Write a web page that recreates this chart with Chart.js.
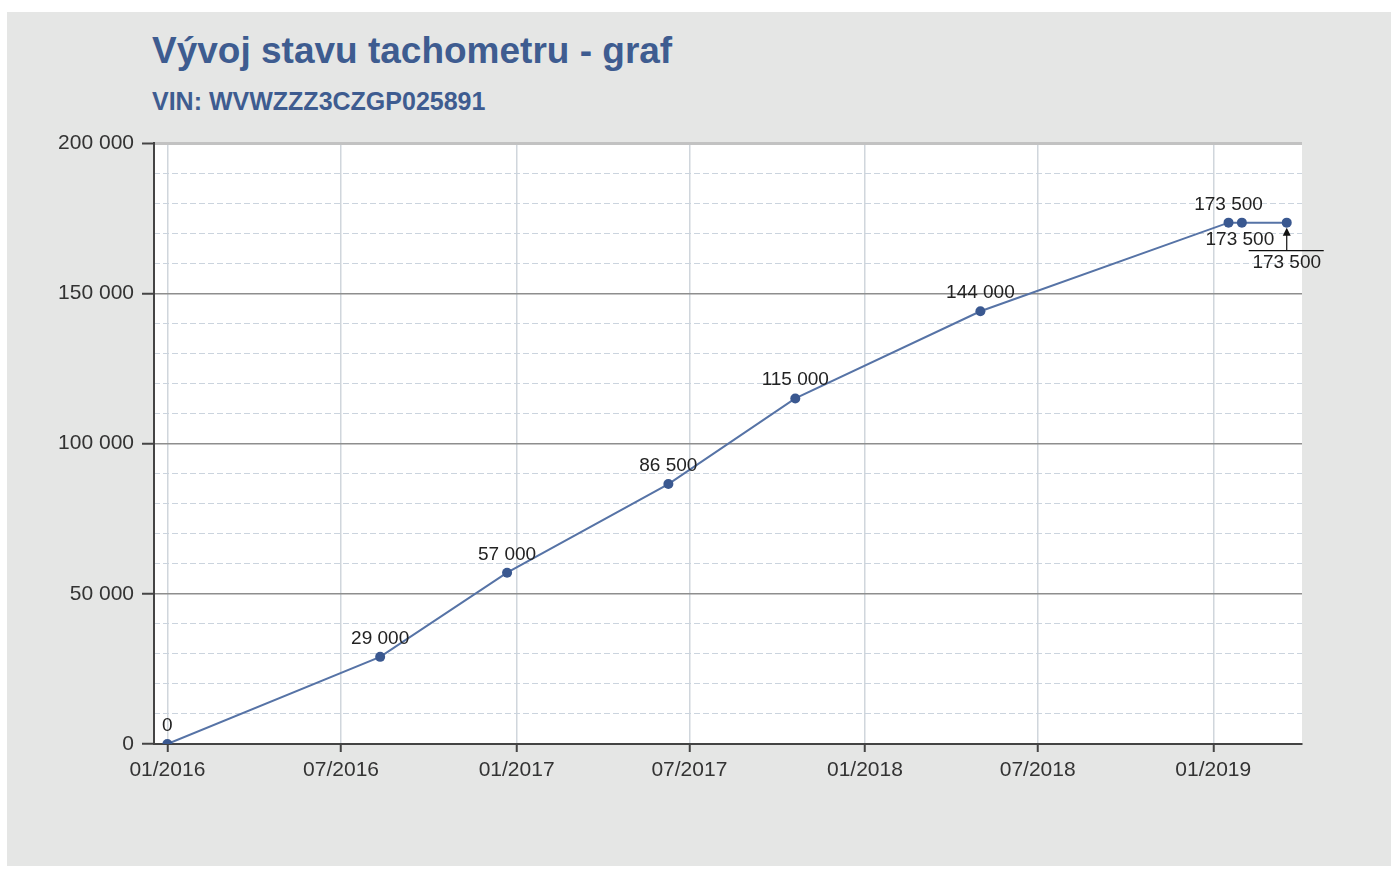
<!DOCTYPE html>
<html>
<head>
<meta charset="utf-8">
<script src="https://cdn.jsdelivr.net/npm/chart.js@4.4.1/dist/chart.umd.min.js"></script>
<style>
  html, body { margin: 0; padding: 0; background: #fff; }
  #panel { position: absolute; left: 7px; top: 12px; width: 1384px; height: 854px; background: #e5e6e5; }
  #title, #subtitle { position: absolute; left: 152px; margin: 0; font-family: "Liberation Sans", Arial, sans-serif; font-weight: bold; color: #3e5c90; white-space: nowrap; }
  #title { top: 32px; font-size: 37px; line-height: 37px; }
  #subtitle { top: 89px; font-size: 25px; line-height: 25px; }
  #chart { position: absolute; left: 0; top: 0; }
</style>
</head>
<body>
<div id="panel"></div>
<h1 id="title">Vývoj stavu tachometru - graf</h1>
<h2 id="subtitle">VIN: WVWZZZ3CZGP025891</h2>
<canvas id="chart" width="1391" height="869"></canvas>
<script>
// readings (date, km)
const readingDates = ['2016-01-01', '2016-08-11', '2016-12-22', '2017-06-09', '2017-10-20', '2018-05-02', '2019-01-17', '2019-01-31', '2019-03-19'];
const odometer = [0, 29000, 57000, 86500, 115000, 144000, 173500, 173500, 173500];

// x axis ticks
const xTickDates = ['2016-01-01', '2016-07-01', '2017-01-01', '2017-07-01', '2018-01-01', '2018-07-01', '2019-01-01'];
const xTickLabels = ['01/2016', '07/2016', '01/2017', '07/2017', '01/2018', '07/2018', '01/2019'];

const toMs = s => Date.parse(s + 'T00:00:00Z');
const fmt = v => String(v).replace(/\B(?=(\d{3})+(?!\d))/g, ' ');

const FONT = '"Liberation Sans", Arial, sans-serif';

// white plot background
const plotBg = {
  id: 'plotBg',
  beforeDraw(chart) {
    const a = chart.chartArea, c = chart.ctx;
    c.save();
    c.fillStyle = '#ffffff';
    c.fillRect(a.left, a.top, a.right - a.left, a.bottom - a.top);
    c.restore();
  }
};

// value labels over the points, last two moved out of the way
const labelModes = { 7: 'below', 8: 'callout' };
const valueLabels = {
  id: 'valueLabels',
  afterDatasetsDraw(chart) {
    const c = chart.ctx;
    const pts = chart.getDatasetMeta(0).data;
    c.save();
    c.font = '19px ' + FONT;
    c.fillStyle = '#222';
    c.textAlign = 'center';
    c.textBaseline = 'alphabetic';
    pts.forEach((p, i) => {
      const txt = fmt(odometer[i]);
      const mode = labelModes[i] || 'above';
      if (mode === 'above') {
        c.fillText(txt, p.x, p.y - 13);
      } else if (mode === 'below') {
        c.fillText(txt, p.x - 2, p.y + 22);
      } else {
        c.strokeStyle = '#111';
        c.lineWidth = 1.2;
        c.beginPath();
        c.moveTo(p.x - 38, p.y + 28);
        c.lineTo(p.x + 37, p.y + 28);
        c.moveTo(p.x, p.y + 28);
        c.lineTo(p.x, p.y + 8);
        c.stroke();
        c.fillStyle = '#111';
        c.beginPath();
        c.moveTo(p.x, p.y + 5);
        c.lineTo(p.x - 4, p.y + 13);
        c.lineTo(p.x + 4, p.y + 13);
        c.closePath();
        c.fill();
        c.fillStyle = '#222';
        c.fillText(txt, p.x, p.y + 45);
      }
    });
    c.restore();
  }
};

new Chart(document.getElementById('chart'), {
  type: 'line',
  data: {
    datasets: [{
      data: readingDates.map((d, i) => ({ x: toMs(d), y: odometer[i] })),
      borderColor: '#5673a6',
      borderWidth: 2,
      pointRadius: 5,
      pointBackgroundColor: '#3a5890',
      pointBorderColor: '#3a5890',
      pointBorderWidth: 0,
      tension: 0,
      fill: false
    }]
  },
  options: {
    responsive: false,
    animation: false,
    events: [],
    layout: { padding: { left: 0, top: 143, right: 89, bottom: 85 } },
    plugins: { legend: { display: false }, tooltip: { enabled: false } },
    scales: {
      x: {
        type: 'linear',
        min: toMs('2015-12-18'),
        max: toMs('2019-04-04'),
        afterBuildTicks: axis => { axis.ticks = xTickDates.map(d => ({ value: toMs(d) })); },
        afterFit: axis => { axis.height = 40; },
        ticks: {
          autoSkip: false,
          maxRotation: 0,
          padding: 6,
          color: '#333',
          font: { family: FONT, size: 21 },
          callback: (v, i) => xTickLabels[i]
        },
        grid: { color: '#d0d6dc', lineWidth: 1.5, tickColor: '#444', tickLength: 8, tickWidth: 2 },
        border: { color: '#444', width: 2 }
      },
      yMinor: {
        type: 'linear',
        position: 'left',
        min: 0,
        max: 200000,
        afterFit: axis => { axis.width = 0; },
        ticks: { display: false, stepSize: 10000 },
        grid: {
          drawTicks: false,
          lineWidth: 1,
          color: ctx => (ctx.tick && ctx.tick.value % 50000 === 0) ? 'rgba(0,0,0,0)' : '#cbd4de'
        },
        border: { display: false, dash: [6, 3] }
      },
      y: {
        type: 'linear',
        position: 'left',
        min: 0,
        max: 200000,
        afterFit: axis => { axis.width = 154; },
        ticks: {
          stepSize: 50000,
          padding: 8,
          color: '#333',
          font: { family: FONT, size: 21 },
          callback: v => fmt(v)
        },
        grid: {
          color: ctx => (ctx.tick && ctx.tick.value === 200000) ? '#c2c2c2' : '#8e8e8e',
          lineWidth: ctx => (ctx.tick && ctx.tick.value === 200000) ? 3 : 1.5,
          tickColor: '#444',
          tickLength: 12,
          tickWidth: 2
        },
        border: { color: '#444', width: 2 }
      }
    }
  },
  plugins: [plotBg, valueLabels]
});
</script>
</body>
</html>
